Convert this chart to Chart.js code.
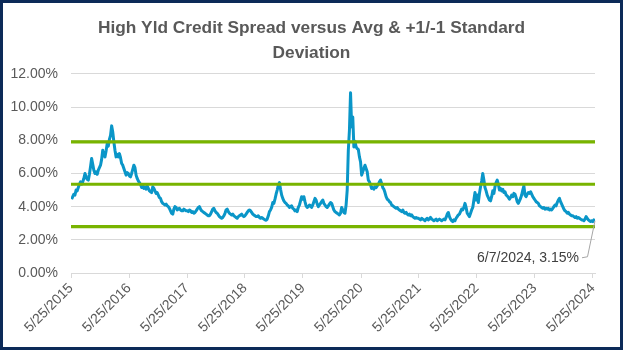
<!DOCTYPE html>
<html>
<head>
<meta charset="utf-8">
<script src="https://cdn.jsdelivr.net/npm/chart.js@4.4.1/dist/chart.umd.min.js"></script>
<style>
    body { margin: 0; background: #fff; }
    #wrap { position: relative; width: 623px; height: 350px; }
    #frame { position: absolute; left: 0; top: 0; width: 623px; height: 350px; box-sizing: border-box; border: 3px solid #0c2a58; pointer-events: none; }
</style>
</head>
<body>
<div id="wrap">
    <canvas id="spreadChart" width="623" height="350"></canvas>
    <div id="frame"></div>
</div>
<script>
// weekly readings (Fridays), first one 5/29/2015, last one 6/7/2024
const firstWeek = '5/29/2015';
const axisStart = '5/25/2015';
const spreadPct = [
    // Jun 2015 - May 2016
    4.45, 4.60, 4.75, 4.70, 5.00, 4.95, 5.15, 5.35, 5.50, 5.35, 5.50, 5.70, 6.00, 5.80, 5.65, 5.60, 5.95,
    6.40, 6.90, 6.55, 6.20, 6.00, 6.10, 5.95, 6.20, 6.35, 6.50, 6.85, 7.40, 7.15, 7.00, 7.35, 7.80, 7.65,
    8.05, 8.30, 8.87, 8.50, 7.90, 7.40, 7.00, 7.15, 7.00, 7.20, 6.95, 6.60, 6.50, 6.30, 6.10, 5.90, 6.05, 6.00,
    // Jun 2016 - May 2017
    5.85, 5.80, 6.00, 6.25, 6.50, 6.35, 5.90, 5.70, 5.55, 5.45, 5.35, 5.15, 5.25, 5.10, 5.20, 5.05, 5.25,
    5.10, 4.95, 4.90, 4.85, 5.20, 5.10, 4.95, 4.80, 4.85, 4.70, 4.55, 4.50, 4.30, 4.20, 4.15, 4.10, 4.15,
    4.05, 4.00, 3.90, 3.75, 3.60, 3.55, 3.85, 4.00, 3.95, 3.80, 3.85, 3.90, 3.80, 3.75, 3.75, 3.85, 3.80, 3.75,
    // Jun 2017 - May 2018
    3.75, 3.70, 3.80, 3.75, 3.65, 3.70, 3.60, 3.65, 3.75, 3.85, 3.95, 4.00, 3.85, 3.75, 3.70, 3.65, 3.60,
    3.55, 3.50, 3.45, 3.45, 3.55, 3.70, 3.85, 3.90, 3.75, 3.65, 3.60, 3.50, 3.40, 3.35, 3.30, 3.35, 3.45,
    3.60, 3.80, 3.85, 3.70, 3.60, 3.55, 3.50, 3.55, 3.45, 3.40, 3.35, 3.30, 3.40, 3.45, 3.50, 3.55, 3.45, 3.40,
    // Jun 2018 - May 2019
    3.45, 3.55, 3.65, 3.75, 3.80, 3.75, 3.65, 3.55, 3.50, 3.45, 3.40, 3.40, 3.45, 3.35, 3.30, 3.35, 3.30,
    3.25, 3.20, 3.18, 3.25, 3.45, 3.70, 3.80, 3.95, 4.25, 4.20, 4.45, 4.75, 5.00, 5.30, 5.45, 5.05, 4.70,
    4.50, 4.35, 4.25, 4.20, 4.10, 4.05, 3.95, 4.00, 4.05, 3.90, 3.85, 3.75, 3.80, 3.70, 3.95, 4.10, 4.35, 4.60,
    // Jun 2019 - May 2020
    4.45, 4.60, 4.30, 4.05, 3.95, 4.00, 4.10, 4.05, 3.95, 4.10, 4.30, 4.50, 4.40, 4.15, 4.00, 4.10, 4.20,
    4.30, 4.40, 4.20, 4.10, 4.00, 3.95, 4.05, 4.15, 4.25, 4.20, 4.00, 3.80, 3.70, 3.65, 3.60, 3.55, 3.50,
    3.60, 3.95, 3.80, 3.65, 3.60, 4.10, 5.00, 7.40, 8.60, 10.87, 8.80, 9.40, 7.60, 7.95, 7.60, 7.50, 7.45, 7.00,
    // Jun 2020 - May 2021
    6.70, 5.90, 6.10, 6.30, 6.50, 6.30, 6.10, 5.60, 5.50, 5.30, 5.10, 5.15, 5.05, 5.20, 5.15, 5.25, 5.35,
    5.50, 5.60, 5.40, 5.15, 5.05, 4.85, 4.60, 4.45, 4.40, 4.30, 4.25, 4.10, 4.05, 4.00, 3.95, 3.90, 3.95,
    3.85, 3.80, 3.75, 3.70, 3.80, 3.65, 3.60, 3.65, 3.55, 3.50, 3.55, 3.45, 3.50, 3.40, 3.35, 3.30, 3.35, 3.30,
    // Jun 2021 - May 2022
    3.30, 3.25, 3.20, 3.30, 3.25, 3.20, 3.15, 3.25, 3.30, 3.20, 3.25, 3.35, 3.25, 3.20, 3.15, 3.20, 3.25,
    3.15, 3.20, 3.25, 3.20, 3.15, 3.20, 3.25, 3.20, 3.35, 3.55, 3.65, 3.40, 3.25, 3.15, 3.10, 3.20, 3.15,
    3.30, 3.40, 3.50, 3.55, 3.70, 3.85, 3.80, 3.95, 4.20, 3.95, 3.60, 3.50, 3.40, 3.60, 3.80, 3.95, 4.40, 4.85,
    // Jun 2022 - May 2023
    4.40, 4.70, 4.25, 4.80, 5.20, 5.55, 6.00, 5.60, 5.15, 4.95, 4.70, 4.55, 4.40, 4.35, 4.60, 4.95, 4.80,
    5.20, 5.45, 5.60, 5.35, 5.00, 5.10, 4.95, 5.05, 4.85, 4.90, 4.70, 4.65, 4.55, 4.45, 4.55, 4.70, 4.60,
    4.80, 4.75, 4.55, 4.30, 4.20, 4.35, 4.50, 4.70, 5.00, 5.25, 4.70, 4.60, 4.75, 4.85, 4.80, 4.90, 4.75, 4.60,
    // Jun 2023 - Jun 2024
    4.50, 4.40, 4.30, 4.25, 4.20, 4.05, 4.00, 3.95, 3.90, 3.95, 3.85, 3.90, 3.85, 3.90, 3.80, 3.85, 3.80,
    3.90, 4.00, 4.10, 4.05, 4.25, 4.40, 4.50, 4.30, 4.15, 4.00, 3.85, 3.75, 3.70, 3.60, 3.65, 3.55, 3.50,
    3.45, 3.45, 3.40, 3.35, 3.40, 3.30, 3.35, 3.30, 3.25, 3.20, 3.20, 3.15, 3.25, 3.40, 3.30, 3.20, 3.15,
    3.10, 3.15, 3.10, 3.20, 3.15
];

// +1 std dev, average, -1 std dev
const bandLevels = [7.91, 5.35, 2.79];
const yTicks = [0, 2, 4, 6, 8, 10, 12];
const xTickLabels = ['5/25/2015', '5/25/2016', '5/25/2017', '5/25/2018', '5/25/2019',
    '5/25/2020', '5/25/2021', '5/25/2022', '5/25/2023', '5/25/2024'];
const titleLines = ['High Yld Credit Spread versus Avg & +1/-1 Standard', 'Deviation'];

const DAY = 86400000;

function parseDate(s) {
    var p = s.split('/');
    return Date.UTC(+p[2], +p[0] - 1, +p[1]);
}

function fmtDate(ms) {
    var d = new Date(ms);
    return (d.getUTCMonth() + 1) + '/' + d.getUTCDate() + '/' + d.getUTCFullYear();
}

const weekStart = parseDate(firstWeek);
const spreadPoints = spreadPct.map(function (v, i) {
    return { x: weekStart + i * 7 * DAY, y: v };
});
const xMin = parseDate(axisStart);
const xMax = spreadPoints[spreadPoints.length - 1].x;
const tickValues = xTickLabels.map(parseDate);

// callout for the last reading
const lastPointLabel = {
    id: 'lastPointLabel',
    afterDatasetsDraw(chart) {
        var meta = chart.getDatasetMeta(3);
        var pt = meta.data[meta.data.length - 1];
        var last = spreadPoints[spreadPoints.length - 1];
        var ctx = chart.ctx;
        ctx.save();
        ctx.strokeStyle = '#a6a6a6';
        ctx.lineWidth = 1;
        ctx.beginPath();
        ctx.moveTo(pt.x, pt.y);
        ctx.lineTo(pt.x - 7.5, pt.y + 36);
        ctx.lineTo(pt.x - 13, pt.y + 37);
        ctx.stroke();
        ctx.fillStyle = '#404040';
        ctx.font = '14px "Liberation Sans"';
        ctx.textAlign = 'right';
        ctx.textBaseline = 'middle';
        ctx.fillText(fmtDate(last.x) + ', ' + last.y.toFixed(2) + '%', pt.x - 16, pt.y + 37);
        ctx.restore();
    }
};

function bandSet(level) {
    return {
        data: [{ x: xMin, y: level }, { x: xMax, y: level }],
        borderColor: '#78b400',
        borderWidth: 3.2,
        pointRadius: 0,
        yAxisID: 'y',
        order: 0
    };
}

Chart.defaults.font.family = '"Liberation Sans", Arial, sans-serif';
Chart.defaults.font.size = 14;
Chart.defaults.color = '#595959';

var ctx = document.getElementById('spreadChart').getContext('2d');
var chart = new Chart(ctx, {
    type: 'line',
    data: {
        datasets: [
            bandSet(bandLevels[0]),
            bandSet(bandLevels[1]),
            bandSet(bandLevels[2]),
            {
                label: 'High Yld Credit Spread',
                data: spreadPoints,
                borderColor: '#0a96c8',
                borderWidth: 3,
                pointRadius: 0,
                tension: 0,
                borderJoinStyle: 'round',
                yAxisID: 'y',
                order: 1
            }
        ]
    },
    options: {
        responsive: false,
        animation: false,
        layout: { padding: 0 },
        plugins: {
            legend: { display: false },
            tooltip: { enabled: false },
            title: {
                display: true,
                text: titleLines,
                color: '#595959',
                font: { size: 17.3, weight: 'bold', lineHeight: 1.49 },
                padding: { top: 15, bottom: 7.4 }
            }
        },
        scales: {
            x: {
                type: 'linear',
                min: xMin,
                max: xMax,
                afterBuildTicks: function (scale) {
                    scale.ticks = tickValues.map(function (v) { return { value: v }; });
                },
                afterFit: function (scale) { scale.height = 77; },
                ticks: {
                    autoSkip: false,
                    minRotation: 45,
                    maxRotation: 45,
                    padding: 2,
                    color: '#595959',
                    callback: function (value) {
                        var i = tickValues.indexOf(value);
                        return i >= 0 ? xTickLabels[i] : '';
                    }
                },
                grid: { drawOnChartArea: false, drawTicks: true, tickLength: 5, color: '#d9d9d9' },
                border: { color: '#d9d9d9' }
            },
            y: {
                position: 'left',
                min: 0,
                max: 12,
                afterBuildTicks: function (scale) {
                    scale.ticks = yTicks.map(function (v) { return { value: v }; });
                },
                afterFit: function (scale) { scale.width = 71; },
                ticks: {
                    padding: 13,
                    color: '#595959',
                    callback: function (value) { return value.toFixed(2) + '%'; }
                },
                grid: { color: '#d9d9d9', drawTicks: false },
                border: { display: false }
            },
            // empty right-hand gutter so the title stays centred on the whole card
            gutter: {
                axis: 'y',
                position: 'right',
                min: 0,
                max: 12,
                afterFit: function (scale) { scale.width = 28; },
                ticks: { display: false },
                grid: { display: false },
                border: { display: false }
            }
        }
    },
    plugins: [lastPointLabel]
});
</script>
</body>
</html>
